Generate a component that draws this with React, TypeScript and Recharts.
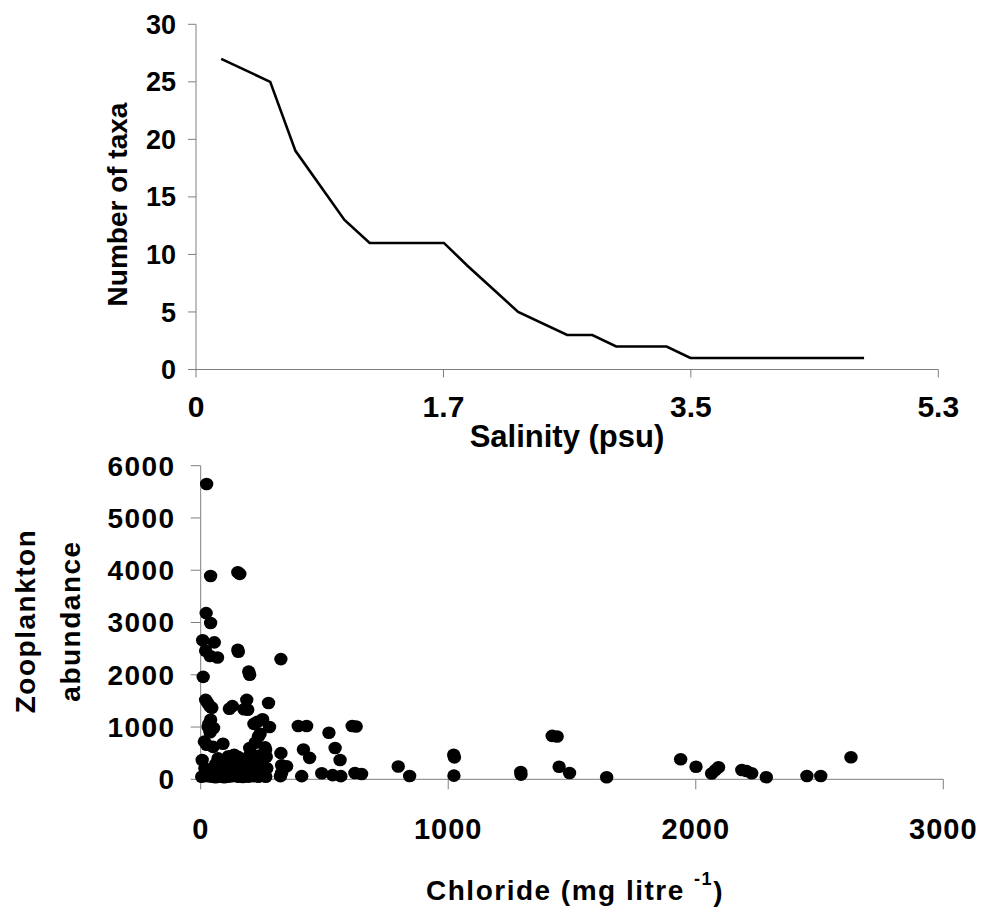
import React from 'react';
import { LineChart, Line, ScatterChart, Scatter, XAxis, YAxis } from 'recharts';

const FONT = '"Liberation Sans", Arial, sans-serif';
const AXIS_GREY = '#7f7f7f';

// top panel: number of taxa along the salinity gradient
const SALINITY = [0.18, 0.53, 0.71, 1.06, 1.24, 1.77, 1.94, 2.3, 2.65, 2.83, 3.0, 3.36, 3.53, 4.77];
const TAXA = [27, 25, 19, 13, 11, 11, 9, 5, 3, 3, 2, 2, 1, 1];
const SALINITY_TICKS = [0, 1.767, 3.533, 5.3];
const SALINITY_LABELS = ['0', '1.7', '3.5', '5.3'];
const TAXA_TICKS = [0, 5, 10, 15, 20, 25, 30];

// bottom panel: zooplankton abundance against chloride
const CHLORIDE = [
  24, 40, 150, 158, 22, 40, 8, 55, 20, 38, 68, 150, 152, 324, 194, 198, 10,
  20, 28, 38, 45, 116, 128, 186, 175, 190, 274,
  40, 33, 30, 52, 38, 215, 250, 230, 278, 394, 428, 518, 612, 628,
  233, 240, 220, 15, 24, 50, 90, 198, 260, 262, 324, 415, 440, 543, 563,
  6, 70, 80, 112, 135, 150, 190, 200, 232, 258, 265,
  17, 40, 64, 90, 112, 140, 160, 192, 215, 233, 267, 150, 100, 60, 245, 215, 30,
  4, 25, 44, 60, 78, 95, 112, 130, 152, 170, 192, 212, 233, 263,
  20, 55, 90, 120, 180, 205, 250,
  327, 347, 327, 322, 408, 489, 533, 566, 623, 650, 798, 844,
  1022, 1025, 1023, 1293, 1294, 1420, 1440, 1448, 1490, 1640, 1939, 2001,
  2064, 2078, 2092, 2186, 2205, 2226, 2285, 2449, 2505, 2627,
];
const ABUNDANCE = [
  5650, 3890, 3960, 3930, 3180, 2990, 2660, 2620, 2460, 2360, 2330, 2480, 2440, 2300, 2060, 2000, 1960,
  1520, 1460, 1390, 1370, 1350, 1400, 1520, 1340, 1330, 1460,
  1140, 1060, 1000, 980, 900, 1060, 1150, 1100, 1000, 1020, 1020, 890, 1020, 1010,
  820, 870, 700, 720, 660, 620, 680, 600, 610, 560, 500, 570, 410, 600, 370,
  370, 400, 350, 440, 470, 430, 420, 470, 450, 500, 430,
  210, 180, 210, 250, 220, 260, 200, 230, 260, 210, 210, 330, 320, 290, 350, 380, 120,
  50, 60, 50, 40, 50, 40, 50, 60, 50, 45, 50, 60, 50, 50,
  150, 130, 130, 140, 120, 140, 120,
  270, 250, 120, 60, 60, 115, 80, 60, 120, 100, 245, 63,
  470, 420, 70, 140, 90, 830, 820, 240, 120, 38, 383, 241,
  110, 170, 230, 178, 160, 115, 40, 63, 63, 421,
];
const CHLORIDE_TICKS = [0, 1000, 2000, 3000];
const ABUNDANCE_TICKS = [0, 1000, 2000, 3000, 4000, 5000, 6000];

const taxaData = SALINITY.map((s, i) => ({ salinity: s, taxa: TAXA[i] }));
const sampleData = CHLORIDE.map((c, i) => ({ chloride: c, abundance: ABUNDANCE[i] }));

const titleStyle = { fontFamily: FONT, fontWeight: 700, fill: '#000' };

const Dot = (props: any) => <ellipse cx={props.cx} cy={props.cy} rx={6.7} ry={6.3} fill="#000" />;

// the two panels overlap a little so neither clips the other's text
const TOP_H = 470;
const BOTTOM_Y = 440;

const App: React.FC = () => (
  <div style={{ position: 'absolute', left: 0, top: 0, width: 981, height: 909, background: '#fff' }}>
    <div style={{ position: 'absolute', left: 0, top: 0 }}>
      <LineChart width={981} height={TOP_H} data={taxaData} margin={{ top: 24.3, right: 42.7, bottom: 40.5, left: 96 }}>
        <XAxis
          type="number"
          dataKey="salinity"
          domain={[0, 5.3]}
          ticks={SALINITY_TICKS}
          interval={0}
          tickFormatter={(_v: number, i: number) => SALINITY_LABELS[i]}
          height={60}
          stroke={AXIS_GREY}
          tickSize={8}
          tickMargin={18}
          tick={{ fill: '#000', fontSize: 30, fontWeight: 700, fontFamily: FONT }}
          label={() => (
            <text x={567} y={436} textAnchor="middle" dominantBaseline="central" fontSize={31} style={titleStyle}>
              Salinity (psu)
            </text>
          )}
        />
        <YAxis
          type="number"
          domain={[0, 30]}
          ticks={TAXA_TICKS}
          interval={0}
          width={100}
          stroke={AXIS_GREY}
          tickSize={8}
          tickMargin={12}
          tick={{ fill: '#000', fontSize: 27, fontWeight: 700, fontFamily: FONT }}
          label={() => (
            <text
              x={117}
              y={204.5}
              transform="rotate(-90 117 204.5)"
              textAnchor="middle"
              dominantBaseline="central"
              fontSize={28}
              style={titleStyle}
            >
              Number of taxa
            </text>
          )}
        />
        <Line type="linear" dataKey="taxa" stroke="#000" strokeWidth={2.6} dot={false} isAnimationActive={false} />
      </LineChart>
    </div>
    <div style={{ position: 'absolute', left: 0, top: BOTTOM_Y }}>
      <ScatterChart width={981} height={469} margin={{ top: 25.7, right: 37.7, bottom: 39.7, left: 80.7 }}>
        <XAxis
          type="number"
          dataKey="chloride"
          domain={[0, 3000]}
          ticks={CHLORIDE_TICKS}
          interval={0}
          height={90}
          stroke={AXIS_GREY}
          tickSize={10}
          tickMargin={28.7}
          tick={{ fill: '#000', fontSize: 29, fontWeight: 700, fontFamily: FONT, letterSpacing: 1 }}
          label={() => (
            <text x={575} y={450.6} textAnchor="middle" dominantBaseline="central" fontSize={28} letterSpacing={1.5} style={titleStyle}>
              Chloride (mg litre{' '}
              <tspan fontSize={18} dy={-12}>-1</tspan>
              <tspan dy={12}>)</tspan>
            </text>
          )}
        />
        <YAxis
          type="number"
          dataKey="abundance"
          domain={[0, 6000]}
          ticks={ABUNDANCE_TICKS}
          interval={0}
          width={120}
          stroke={AXIS_GREY}
          tickSize={10}
          tickMargin={15}
          tick={{ fill: '#000', fontSize: 28, fontWeight: 700, fontFamily: FONT, letterSpacing: 1.5 }}
          label={() => (
            <g>
              <text x={25} y={181} transform="rotate(-90 25 181)" textAnchor="middle" dominantBaseline="central" fontSize={28} letterSpacing={1.5} style={titleStyle}>
                Zooplankton
              </text>
              <text x={70} y={181} transform="rotate(-90 70 181)" textAnchor="middle" dominantBaseline="central" fontSize={28} letterSpacing={1.5} style={titleStyle}>
                abundance
              </text>
            </g>
          )}
        />
        <Scatter data={sampleData} fill="#000" shape={Dot} isAnimationActive={false} />
      </ScatterChart>
    </div>
  </div>
);

export default App;
